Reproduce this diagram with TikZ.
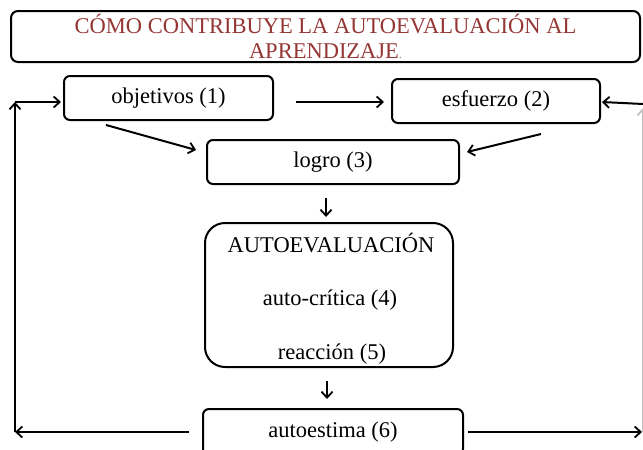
\documentclass[tikz,border=0pt]{standalone}
\usepackage{fontspec}
\setmainfont{Liberation Serif}
\usetikzlibrary{arrows.meta,calc}
\definecolor{titlered}{RGB}{148,54,52}
\tikzset{
  box/.style={draw=black, line width=2pt, rounded corners=6pt, inner sep=0pt,
    font=\fontsize{22.5}{27}\selectfont},
  arr/.style={line width=2pt, -{Straight Barb[length=6pt,width=11pt,line width=1.8pt]}},
  lbl/.style={inner sep=0pt, font=\fontsize{22.5}{27}\selectfont}
}
\begin{document}
\begin{tikzpicture}[x=1pt,y=-1pt]
\clip (0,0) rectangle (643,450);
\fill[white] (0,0) rectangle (643,450);
% title
\node[box, rounded corners=7pt, minimum width=629pt, minimum height=51pt, align=center,
  text=titlered, font=\fontsize{22.5}{25}\selectfont] (title) at (325.5,36.5)
  {CÓMO CONTRIBUYE LA AUTOEVALUACIÓN AL\\APRENDIZAJE{\color{gray}\fontsize{12}{12}\selectfont .}};
% boxes
\node[box, minimum width=209pt, minimum height=44pt] (obj) at (168.5,98) {\raisebox{-1.5pt}{objetivos (1)}};
\node[box, minimum width=208pt, minimum height=44pt] (esf) at (496,101) {\raisebox{-1.5pt}{esfuerzo (2)}};
\node[box, minimum width=252pt, minimum height=44pt] (logro) at (333,162) {\raisebox{-1.5pt}{logro (3)}};
\node[box, rounded corners=20pt, minimum width=248pt, minimum height=144pt] (ae) at (329,295) {};
\node[lbl] (ae1) at (331,243) {AUTOEVALUACIÓN};
\node[lbl] (ae2) at (330,300) {auto-crítica (4)};
\node[lbl] (ae3) at (332,354) {reacción (5)};
\node[box, minimum width=260pt, minimum height=46pt] (a6) at (333,432) {autoestima (6)};
% loop corners
\coordinate (bl) at (15,432);
\coordinate (tl) at (15,102);
\coordinate (br) at (643,432);
\coordinate (tr) at (643,108);
\coordinate (tre) at (643,104);
% connectors
\draw[arr] ($(obj.east)+(22,4)$) -- ($(esf.west)+(-7,1)$);
\draw[arr] ($(obj.south west)+(43,4)$) -- ($(logro.north west)+(-10,11)$);
\draw[arr] ($(esf.south east)+(-60,10)$) -- ($(logro.north east)+(7,13)$);
\draw[arr] ($(logro.south)+(-7,13)$) -- ($(ae.north)+(-3,-5)$);
\draw[arr] ($(ae.south)+(-2,13)$) -- ($(a6.north)+(-6,-9)$);
\draw[arr] ($(a6.west)+(-13,0)$) -- (bl);
\draw[arr] (bl) -- (tl);
\draw[arr] (tl) -- ($(obj.west)+(-2,4)$);
\draw[arr] ($(a6.east)+(4,0)$) -- ($(br)+(-1,0)$);
\draw[arr, draw=gray!50] (br) -- (tr);
\draw[arr] (tre) -- ($(esf.east)+(1,1)$);
\end{tikzpicture}
\end{document}
